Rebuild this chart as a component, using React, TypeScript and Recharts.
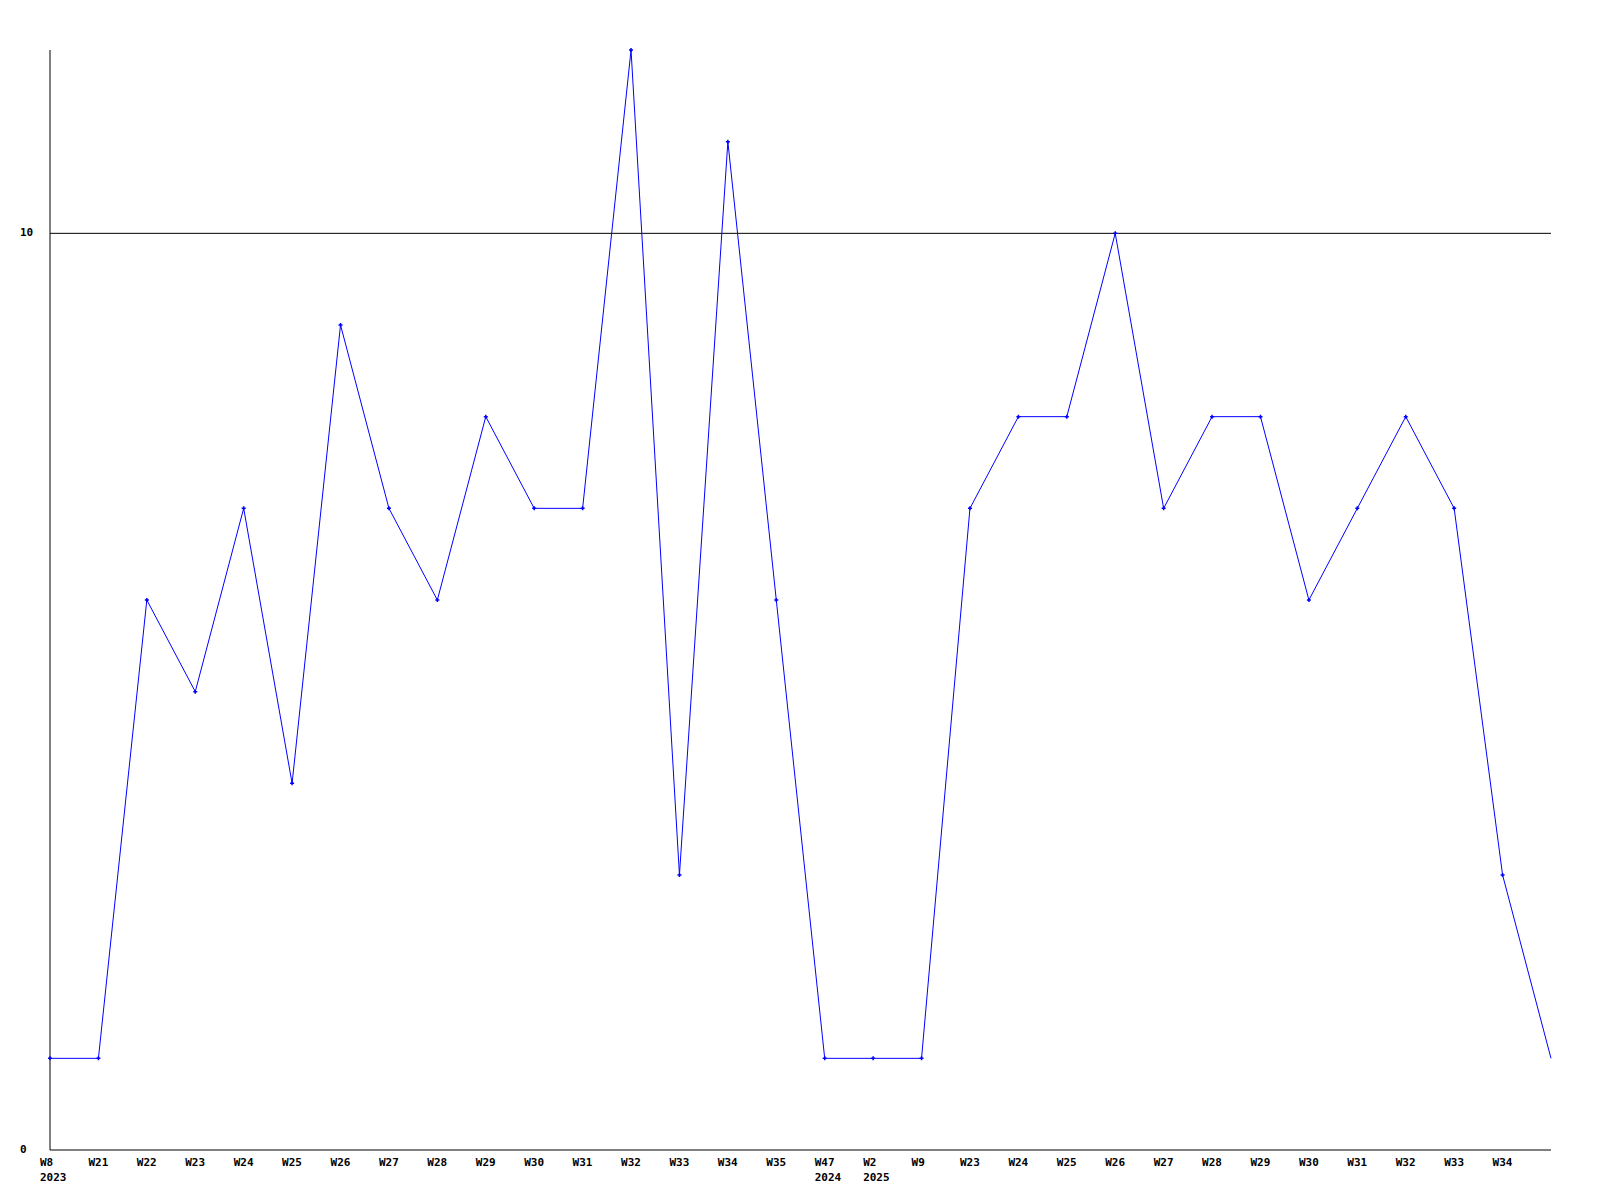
import { LineChart, Line, XAxis, YAxis, ReferenceLine } from 'recharts'

const weeks = [
  'W8', 'W21', 'W22', 'W23', 'W24', 'W25', 'W26', 'W27', 'W28', 'W29', 'W30', 'W31', 'W32', 'W33', 'W34', 'W35',
  'W47', 'W2', 'W9', 'W23', 'W24', 'W25', 'W26', 'W27', 'W28', 'W29', 'W30', 'W31', 'W32', 'W33', 'W34', '',
]
const years = ['2023', '', '', '', '', '', '', '', '', '', '', '', '', '', '', '', '2024', '2025', '', '', '', '', '', '', '', '', '', '', '', '', '', '']
const counts = [1, 1, 6, 5, 7, 4, 9, 7, 6, 8, 7, 7, 12, 3, 11, 6, 1, 1, 1, 7, 8, 8, 10, 7, 8, 8, 6, 7, 8, 7, 3, 1]
const yTicks = [0, 10]

const data = counts.map((c, i) => ({ key: i, week: weeks[i], year: years[i], count: c }))

const font = { fontFamily: 'DejaVu Sans Mono, monospace', fontSize: 11, fontWeight: 700, fill: '#000' }

function WeekTick({ x, y, payload }: any) {
  const d = data[payload.value]
  if (!d) return null
  return (
    <g>
      <text x={x - 10} y={y + 5} textAnchor="start" dominantBaseline="middle" {...font}>{d.week}</text>
      {d.year && <text x={x - 10} y={y + 20} textAnchor="start" dominantBaseline="middle" {...font}>{d.year}</text>}
    </g>
  )
}

function CountTick({ y, payload }: any) {
  return <text x={20} y={y} textAnchor="start" dominantBaseline="middle" {...font}>{payload.value}</text>
}

function Marker({ cx, cy, index }: any) {
  if (index === counts.length - 1) return null
  return <path d={`M${cx - 2},${cy}L${cx + 2},${cy}M${cx},${cy - 2}L${cx},${cy + 2}`} stroke="#0000ff" strokeWidth={1.5} fill="none" />
}

export default function App() {
  return (
    <div style={{ position: 'absolute', left: 0, top: 0, background: '#fff' }}>
      <LineChart width={1600} height={1200} data={data} margin={{ top: 50, right: 49, left: 0, bottom: 0 }}>
        <XAxis dataKey="key" type="category" height={50} tick={<WeekTick />} tickLine={false} axisLine={{ stroke: '#000' }} interval={0} />
        <YAxis width={50} domain={[0, 12]} ticks={yTicks} tick={<CountTick />} tickLine={false} axisLine={{ stroke: '#000' }} />
        <ReferenceLine y={10} stroke="#000" />
        <Line dataKey="count" stroke="#0000ff" strokeWidth={1} dot={<Marker />} activeDot={false} isAnimationActive={false} />
      </LineChart>
    </div>
  )
}
